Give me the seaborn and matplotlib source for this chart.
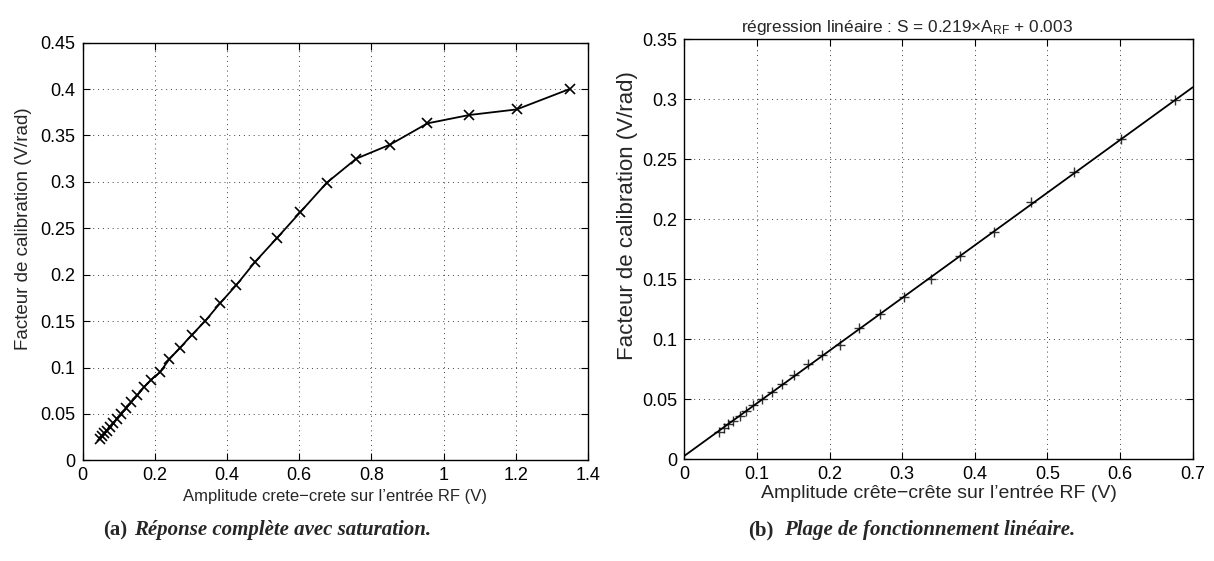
import matplotlib
matplotlib.use("Agg")
import matplotlib.pyplot as plt
from matplotlib.ticker import FuncFormatter
import numpy as np
import pandas as pd
import seaborn as sns

# Peak-to-peak amplitude on the RF input (V) and calibration factor (V/rad)
amplitude = [0.048, 0.054, 0.060, 0.067, 0.076, 0.085, 0.095, 0.107, 0.120, 0.135,
             0.151, 0.170, 0.190, 0.214, 0.240, 0.269, 0.302, 0.339, 0.380, 0.426,
             0.478, 0.537, 0.602, 0.676, 0.758, 0.851, 0.955, 1.071, 1.202, 1.349]
calibration = [0.023, 0.026, 0.029, 0.032, 0.036, 0.040, 0.045, 0.050, 0.056, 0.063,
               0.070, 0.079, 0.087, 0.095, 0.109, 0.121, 0.135, 0.150, 0.169, 0.189,
               0.214, 0.239, 0.267, 0.299, 0.325, 0.340, 0.363, 0.372, 0.378, 0.400]
linear_limit = 0.7  # linear range shown on the right panel

left_xticks = [0, 0.2, 0.4, 0.6, 0.8, 1.0, 1.2, 1.4]
left_yticks = [0, 0.05, 0.1, 0.15, 0.2, 0.25, 0.3, 0.35, 0.4, 0.45]
right_xticks = [0, 0.1, 0.2, 0.3, 0.4, 0.5, 0.6, 0.7]
right_yticks = [0, 0.05, 0.1, 0.15, 0.2, 0.25, 0.3, 0.35]

df = pd.DataFrame({"A": amplitude, "S": calibration})
df_lin = df[df["A"] < linear_limit]

sns.set_theme(style="white")
plt.rcParams["font.family"] = ["Liberation Sans", "DejaVu Sans"]
plt.rcParams["mathtext.default"] = "regular"

fig = plt.figure(figsize=(12.14, 5.61), dpi=100)
ax1 = fig.add_axes([0.0681, 0.1793, 0.4163, 0.7448])
ax2 = fig.add_axes([0.5638, 0.1813, 0.4186, 0.7487])

fmt = FuncFormatter(lambda v, p: "%g" % round(v, 4))

def style_axes(ax, xt, yt, tick_size):
    ax.set_xlim(xt[0], xt[-1])
    ax.set_ylim(yt[0], yt[-1])
    ax.set_xticks(xt)
    ax.set_yticks(yt)
    ax.xaxis.set_major_formatter(fmt)
    ax.yaxis.set_major_formatter(fmt)
    ax.tick_params(which="both", direction="in", length=5, width=0.8, colors="black",
                   labelsize=tick_size, top=True, right=True, bottom=True, left=True, pad=5)
    ax.grid(True, linestyle=(0, (1, 4)), color="0.25", linewidth=0.7)
    for sp in ax.spines.values():
        sp.set_visible(True)
        sp.set_color("black")
        sp.set_linewidth(1.0)

# (a) full response with saturation
style_axes(ax1, left_xticks, left_yticks, 13)
sns.lineplot(data=df, x="A", y="S", ax=ax1, sort=False, color="black", linewidth=1.3,
             marker="x", markersize=6.5, markeredgewidth=1.2, markeredgecolor="black")
ax1.set_xlabel("Amplitude crete\u2212crete sur l\u2019entrée RF (V)", fontsize=12, labelpad=3)
ax1.set_ylabel("Facteur de calibration (V/rad)", fontsize=13.5)
ax1.yaxis.set_label_coords(-0.101, 0.554)

# (b) linear range with regression line
style_axes(ax2, right_xticks, right_yticks, 13)
sns.regplot(data=df_lin, x="A", y="S", ax=ax2, ci=None, truncate=False, marker="+",
            scatter_kws={"s": 55, "color": "black", "linewidths": 1.0},
            line_kws={"color": "black", "linewidth": 1.3})
ax2.set_xlim(right_xticks[0], right_xticks[-1])
ax2.set_ylim(right_yticks[0], right_yticks[-1])
ax2.set_xlabel("Amplitude crête\u2212crête sur l\u2019entrée RF (V)", fontsize=14, labelpad=1)
ax2.set_ylabel("Facteur de calibration (V/rad)", fontsize=16)
ax2.yaxis.set_label_coords(-0.091, 0.58)
ax2.set_title("régression linéaire : S = 0.219\u00d7A$_{RF}$ + 0.003", fontsize=12.4,
              x=0.438, pad=5)

# captions
cap = dict(fontsize=15, fontweight="bold", family=["Liberation Serif", "DejaVu Serif"], va="center")
fig.text(103 / 1214, 1 - 530 / 561, "(a)", ha="left", **cap)
fig.text(134 / 1214, 1 - 530 / 561, "Réponse complète avec saturation.", ha="left", style="italic", **cap)
fig.text(748 / 1214, 1 - 530 / 561, "(b)", ha="left", **cap)
fig.text(784 / 1214, 1 - 530 / 561, "Plage de fonctionnement linéaire.", ha="left", style="italic", **cap)

fig.savefig("out.png", dpi=100, facecolor="white")
